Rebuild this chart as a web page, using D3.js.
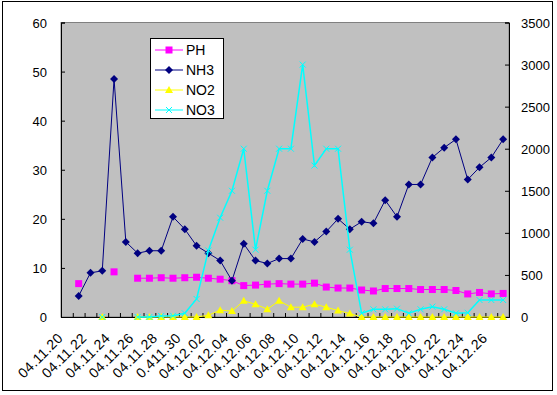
<!DOCTYPE html>
<html>
<head>
<meta charset="utf-8">
<script src="https://cdn.jsdelivr.net/npm/d3@7"></script>
<style>
  body { margin: 0; background: #fff; }
  text { font-family: "Liberation Sans", Arial, sans-serif; }
</style>
</head>
<body>
<div id="chart"></div>
<script>
// dates 04.11.20 .. 04.12.27
let dates = ["04.11.20","04.11.21","04.11.22","04.11.23","04.11.24","04.11.25","04.11.26","04.11.27",
  "04.11.28","04.11.29","0.411.30","04.12.01","04.12.02","04.12.03","04.12.04","04.12.05","04.12.06",
  "04.12.07","04.12.08","04.12.09","04.12.10","04.12.11","04.12.12","04.12.13","04.12.14","04.12.15",
  "04.12.16","04.12.17","04.12.18","04.12.19","04.12.20","04.12.21","04.12.22","04.12.23","04.12.24",
  "04.12.25","04.12.26","04.12.27"];

let ph  = [null,6.8,null,null,9.2,null,7.9,7.9,8.0,7.9,8.0,8.1,7.9,7.7,7.4,6.4,6.5,6.7,6.8,6.7,6.7,6.9,
  6.1,5.9,5.9,5.5,5.3,5.8,5.8,5.8,5.6,5.6,5.6,5.4,4.7,5.0,4.7,4.8];
let nh3 = [null,4.3,9.0,9.4,48.5,15.3,13.0,13.5,13.5,20.4,17.9,14.5,13.0,11.5,7.4,14.9,11.5,10.9,11.9,
  11.9,15.9,15.3,17.4,20.0,17.9,19.4,19.1,23.8,20.4,27.0,27.0,32.5,34.5,36.2,28.0,30.5,32.5,36.2];
let no2 = [null,null,null,0,null,null,0,0,0,0,0,0,0.35,1.4,1.2,3.3,2.6,1.6,3.3,2.0,2.0,2.6,2.0,1.3,0.7,
  0,0,0,0,0,0,0,0,0,0,0,0,0];
let no3 = [null,null,null,0,null,null,0,0,12,15,44,214,790,1180,1500,2000,800,1500,2000,2000,3000,1800,
  2000,2000,800,44,91,91,99,44,91,123,91,44,50,202,202,202];

let leftTicks = [0,10,20,30,40,50,60];
let rightTicks = [0,500,1000,1500,2000,2500,3000,3500];

const W = 557, H = 395;
const m = {left: 61, right: 509, top: 22.5, bottom: 317};

const svg = d3.select("#chart").append("svg")
  .attr("width", W).attr("height", H);

svg.append("rect")
  .attr("x", 2.5).attr("y", 1.5).attr("width", 550).attr("height", 389)
  .attr("fill", "#fff").attr("stroke", "#000").attr("stroke-width", 1);

let x = d3.scaleBand().domain(dates).range([m.left, m.right]);
let yL = d3.scaleLinear().domain([0, 60]).range([m.bottom, m.top]);
let yR = d3.scaleLinear().domain([0, 3500]).range([m.bottom, m.top]);
let cx = function(i) { return x(dates[i]) + x.bandwidth() / 2; };

svg.append("rect")
  .attr("x", m.left).attr("y", m.top)
  .attr("width", m.right - m.left).attr("height", m.bottom - m.top)
  .attr("fill", "#c0c0c0").attr("stroke", "#808080");

// axes (ticks pointing into the plot)
svg.append("g")
  .attr("transform", "translate(" + m.left + ",0)")
  .call(d3.axisRight(yL).tickValues(leftTicks).tickSize(4).tickFormat(""))
  .call(g => g.select(".domain").attr("stroke", "#000"));
svg.append("g").selectAll("text").data(leftTicks).enter().append("text")
  .attr("x", 47).attr("y", d => yL(d) + 5)
  .attr("text-anchor", "end").attr("font-size", 13).attr("fill", "#000")
  .text(d => d);

svg.append("g")
  .attr("transform", "translate(" + m.right + ",0)")
  .call(d3.axisLeft(yR).tickValues(rightTicks).tickSize(4).tickFormat(""))
  .call(g => g.select(".domain").attr("stroke", "#000"));
svg.append("g").selectAll("text").data(rightTicks).enter().append("text")
  .attr("x", 521).attr("y", d => yR(d) + 5)
  .attr("text-anchor", "start").attr("font-size", 13).attr("fill", "#000")
  .text(d => d);

let xAxis = d3.axisTop(x).tickSize(4).tickFormat("");
let xg = svg.append("g")
  .attr("transform", "translate(0," + m.bottom + ")")
  .call(xAxis);
xg.select(".domain").attr("stroke", "#000");
// excel style ticks between categories
xg.selectAll(".tick").attr("transform", d => "translate(" + (x(d) + 0.5) + ",0)");

svg.append("g").selectAll("text")
  .data(dates.filter((d, i) => i % 2 == 0)).enter().append("text")
  .attr("text-anchor", "end").attr("font-size", 14).attr("letter-spacing", 0.4).attr("fill", "#000")
  .attr("transform", d => "translate(" + (x(d) + x.bandwidth() / 2 - 3) + ",339) rotate(-45)")
  .text(d => d);

let idx = d3.range(dates.length);

function drawSeries(vals, y, color, lw, marker) {
  let line = d3.line()
    .defined(i => vals[i] != null)
    .x(i => cx(i)).y(i => y(vals[i]));
  svg.append("path").datum(idx)
    .attr("d", line).attr("fill", "none")
    .attr("stroke", color).attr("stroke-width", lw);
  let pts = idx.filter(i => vals[i] != null);
  let g = svg.append("g");
  pts.forEach(function(i) { marker(g, cx(i), y(vals[i])); });
}

let sq = function(g, px, py) {
  g.append("rect").attr("x", px - 3.5).attr("y", py - 3.5).attr("width", 7).attr("height", 7)
    .attr("fill", "#ff00ff");
};
let dia = function(g, px, py) {
  g.append("path").attr("d", "M" + px + "," + (py - 4) + "L" + (px + 4) + "," + py + "L" + px + "," + (py + 4) + "L" + (px - 4) + "," + py + "Z")
    .attr("fill", "#000080");
};
let tri = function(g, px, py) {
  g.append("path").attr("d", "M" + px + "," + (py - 4) + "L" + (px + 4) + "," + (py + 3) + "L" + (px - 4) + "," + (py + 3) + "Z")
    .attr("fill", "#ffff00");
};
let cross = function(g, px, py) {
  g.append("path").attr("d", "M" + (px - 3) + "," + (py - 3) + "L" + (px + 3) + "," + (py + 3) + "M" + (px + 3) + "," + (py - 3) + "L" + (px - 3) + "," + (py + 3))
    .attr("stroke", "#00ffff").attr("stroke-width", 1);
};

drawSeries(ph, yL, "#ff00ff", 1, sq);
drawSeries(nh3, yL, "#000080", 1, dia);
drawSeries(no2, yL, "#ffff00", 1, tri);
drawSeries(no3, yR, "#00ffff", 1.5, cross);

// legend
let leg = svg.append("g");
leg.append("rect").attr("x", 150.5).attr("y", 38.5).attr("width", 73).attr("height", 80)
  .attr("fill", "#fff").attr("stroke", "#000");
let legItems = [
  {name: "PH", color: "#ff00ff", m: sq},
  {name: "NH3", color: "#000080", m: dia},
  {name: "NO2", color: "#ffff00", m: tri},
  {name: "NO3", color: "#00ffff", m: cross}
];
legItems.forEach(function(d, i) {
  let ly = 50 + i * 20;
  leg.append("line").attr("x1", 155).attr("x2", 183).attr("y1", ly).attr("y2", ly)
    .attr("stroke", d.color).attr("stroke-width", 1);
  d.m(leg, 169, ly);
  leg.append("text").attr("x", 186).attr("y", ly + 5).attr("font-size", 14)
    .attr("fill", "#000").text(d.name);
});
</script>
</body>
</html>
